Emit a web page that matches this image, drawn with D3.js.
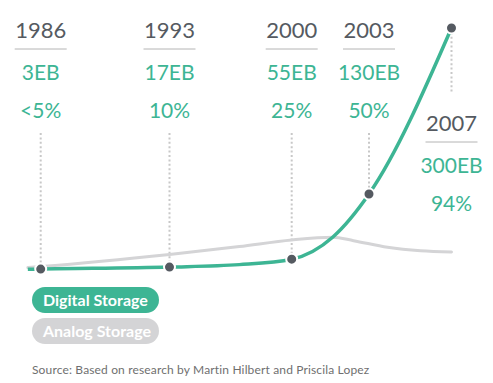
<!DOCTYPE html>
<html>
<head>
<meta charset="utf-8">
<script src="https://cdn.jsdelivr.net/npm/d3@7"></script>
<style>
  html, body { margin: 0; padding: 0; background: #fff; }
  svg { display: block; font-family: Lato, "Open Sans", sans-serif; }
</style>
</head>
<body>
<svg id="chart" width="493" height="383"></svg>
<script>
// ---- data ----
const years = [1986, 1993, 2000, 2003, 2007];
const yearLabels = ["1986", "1993", "2000", "2003", "2007"];
const storageLabels = ["3EB", "17EB", "55EB", "130EB", "300EB"];
const shareLabels = ["<5%", "10%", "25%", "50%", "94%"];
// plotted heights (relative units)
const digitalMarks = [2.4, 3.2, 6.4, 32.8, 100];
const digitalYears = [1985.3, 1986, 1993, 1997, 2000, 2001.6, 2003, 2007];
const digitalValues = [2.3, 2.4, 3.2, 4.2, 6.4, 15.4, 32.8, 100];
const analogYears = [1985.3, 1986, 1993, 1997, 2000, 2001.6, 2002.4, 2003.9, 2005.5, 2007];
const analogValues = [3.0, 3.4, 8.3, 11.5, 14.2, 15.3, 13.9, 11.2, 9.8, 9.3];
const legendLabels = ["Digital Storage", "Analog Storage"];
const sourceText = "Source: Based on research by Martin Hilbert and Priscila Lopez";

// ---- style ----
const teal = "#3db594", gray = "#d4d4d6", dark = "#555a61";

const svg = d3.select("#chart");
const x = d3.scaleLinear().domain(years).range([40.7, 169.5, 291.7, 369, 451.5]);
const y = d3.scaleLinear().domain([0, 100]).range([275, 28]);

const line = d3.line().curve(d3.curveMonotoneX);

// dotted guides
years.forEach((yr, i) => {
  const last = i === years.length - 1;
  svg.append("line")
    .attr("x1", x(yr)).attr("x2", x(yr))
    .attr("y1", last ? y(digitalMarks[i]) : 133)
    .attr("y2", last ? 93 : y(digitalMarks[i]))
    .attr("stroke", "#c8c8c8").attr("stroke-width", 2)
    .attr("stroke-dasharray", "2,2.4");
});

// lines
svg.append("path")
  .attr("d", line(analogYears.map((d, i) => [x(d), y(analogValues[i])])))
  .attr("fill", "none").attr("stroke", gray).attr("stroke-width", 3)
  .attr("stroke-linecap", "round");
svg.append("path")
  .attr("d", line(digitalYears.map((d, i) => [x(d), y(digitalValues[i])])))
  .attr("fill", "none").attr("stroke", teal).attr("stroke-width", 3.5);

// dots
svg.selectAll("circle.pt").data(years).enter().append("circle")
  .attr("class", "pt")
  .attr("cx", d => x(d)).attr("cy", (d, i) => y(digitalMarks[i]))
  .attr("r", 5.5).attr("fill", dark)
  .attr("stroke", "#fff").attr("stroke-width", 2);

// labels
years.forEach((yr, i) => {
  const cx = x(yr);
  const off = i === years.length - 1 ? 93 : 0;
  svg.append("text").attr("x", cx).attr("y", 38 + off)
    .attr("text-anchor", "middle").attr("font-size", 22).attr("fill", dark)
    .text(yearLabels[i]);
  svg.append("line").attr("x1", cx - 26).attr("x2", cx + 26)
    .attr("y1", 49 + off).attr("y2", 49 + off)
    .attr("stroke", "#b4b4b4").attr("stroke-width", 1);
  svg.append("text").attr("x", cx).attr("y", 80 + off)
    .attr("text-anchor", "middle").attr("font-size", 21).attr("fill", teal)
    .text(storageLabels[i]);
  svg.append("text").attr("x", cx).attr("y", 118 + off)
    .attr("text-anchor", "middle").attr("font-size", 21).attr("fill", teal)
    .text(shareLabels[i]);
});

// legend
const legendColors = [teal, gray];
legendLabels.forEach((lab, i) => {
  const g = svg.append("g").attr("transform", `translate(32,${287 + i * 31})`);
  g.append("rect").attr("width", 127).attr("height", 26).attr("rx", 13)
    .attr("fill", legendColors[i]);
  g.append("text").attr("x", 11).attr("y", 19)
    .attr("font-size", 16).attr("font-weight", 700).attr("fill", "#fff")
    .text(lab);
});

// source
svg.append("text").attr("x", 32).attr("y", 374)
  .attr("font-size", 12).attr("fill", "#6f6f6f").attr("letter-spacing", 0.15)
  .text(sourceText);
</script>
</body>
</html>
